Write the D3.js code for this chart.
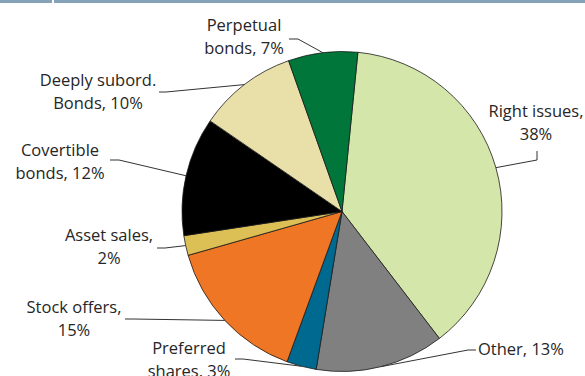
<!DOCTYPE html>
<html>
<head>
<meta charset="utf-8">
<script src="https://cdn.jsdelivr.net/npm/d3@7"></script>
<style>
  html, body { margin: 0; padding: 0; background: #fff; }
  svg { display: block; }
  text { font-family: "Open Sans", "Noto Sans", sans-serif; font-size: 16.5px; fill: #262626; }
</style>
</head>
<body>
<svg id="chart" width="585" height="376"></svg>
<script>
// Funding sources, share of total (%), clockwise from the top
const categories = ["Right issues", "Other", "Preferred shares", "Stock offers",
                    "Asset sales", "Covertible bonds", "Deeply subord. Bonds", "Perpetual bonds"];
const shares = [38, 13, 3, 15, 2, 12, 10, 7];
const labelLines = [
  ["Right issues,", "38%"],
  ["Other, 13%"],
  ["Preferred", "shares, 3%"],
  ["Stock offers,", "15%"],
  ["Asset sales,", "2%"],
  ["Covertible", "bonds, 12%"],
  ["Deeply subord.", "Bonds, 10%"],
  ["Perpetual", "bonds, 7%"]
];
const colors = ["#d4e6a9", "#808080", "#006990", "#ef7624",
                "#dcbf55", "#000000", "#e9e0a9", "#00763a"];

// Label placement: text anchor point, alignment, and leader elbow points
const labelLayout = [
  { x: 536, y: 117, anchor: "middle", leader: [[537, 151], [537, 160]] },
  { x: 478, y: 355, anchor: "start",  leader: [[476, 350], [468, 350]] },
  { x: 189, y: 354, anchor: "middle", leader: [[235, 359], [243, 359]] },
  { x: 74,  y: 313, anchor: "middle", leader: [[125, 319], [133, 319]] },
  { x: 109, y: 241, anchor: "middle", leader: [[157, 248], [165, 248]] },
  { x: 60,  y: 156, anchor: "middle", leader: [[110, 160], [119, 160]] },
  { x: 98,  y: 86,  anchor: "middle", leader: [[159, 92], [166, 92]] },
  { x: 244, y: 31,  anchor: "middle", leader: [[289, 39], [298, 39]] }
];
const lineGap = 23;

const svg = d3.select("#chart");
const cx = 342, cy = 211.5, radius = 160;

// top rule
svg.append("rect").attr("x", 0).attr("y", 0).attr("width", 585).attr("height", 3).attr("fill", "#84a3b9");
svg.append("rect").attr("x", 52).attr("y", 0).attr("width", 2).attr("height", 3).attr("fill", "#fff");

const start = 5.7 * Math.PI / 180;
const pie = d3.pie().sort(null).startAngle(start).endAngle(start + 2 * Math.PI);
const arcs = pie(shares);
const arc = d3.arc().innerRadius(0).outerRadius(radius);
const edge = d3.arc().innerRadius(radius).outerRadius(radius);

const g = svg.append("g").attr("transform", `translate(${cx},${cy})`);
g.selectAll("path.slice")
  .data(arcs)
  .join("path")
  .attr("class", "slice")
  .attr("d", arc)
  .attr("fill", (d, i) => colors[i])
  .attr("stroke", "#1a1a1a")
  .attr("stroke-width", 0.8)
  .attr("stroke-linejoin", "round");

// leader lines from label to the slice's outer edge
const line = d3.line();
svg.selectAll("path.leader")
  .data(arcs)
  .join("path")
  .attr("class", "leader")
  .attr("d", (d, i) => {
    const c = edge.centroid(d);
    return line([...labelLayout[i].leader, [cx + c[0], cy + c[1]]]);
  })
  .attr("fill", "none")
  .attr("stroke", "#333")
  .attr("stroke-width", 1);

// labels
categories.forEach((name, i) => {
  const L = labelLayout[i];
  const t = svg.append("text")
    .attr("x", L.x).attr("y", L.y)
    .attr("text-anchor", L.anchor);
  labelLines[i].forEach((s, k) => {
    t.append("tspan").attr("x", L.x).attr("y", L.y + k * lineGap).text(s);
  });
});
</script>
</body>
</html>
